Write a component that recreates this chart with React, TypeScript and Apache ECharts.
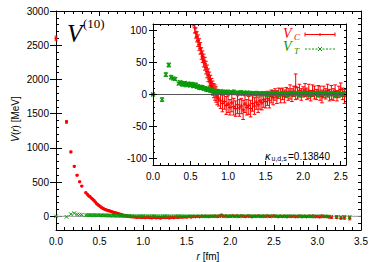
import React, { useEffect, useRef } from "react";
import * as echarts from "echarts";

// r [fm] of the lattice points
const rValues = [
  0, 0.121, 0.171, 0.21, 0.242, 0.271, 0.296, 0.342,
  0.36, 0.375, 0.39, 0.405, 0.42, 0.435, 0.45, 0.465, 0.48, 0.495,
  0.51, 0.525, 0.54, 0.555, 0.57, 0.585, 0.6, 0.615, 0.63, 0.645,
  0.66, 0.675, 0.69, 0.705, 0.72, 0.735, 0.75, 0.765, 0.78, 0.795,
  0.81, 0.825, 0.84, 0.855,
  0.875, 0.9, 0.925, 0.95, 0.975, 1.0, 1.025, 1.05, 1.075, 1.1,
  1.125, 1.15, 1.175, 1.2, 1.225, 1.25, 1.275, 1.3, 1.325, 1.35,
  1.375, 1.4, 1.425, 1.45, 1.475, 1.5, 1.525, 1.55, 1.575, 1.6,
  1.625, 1.65, 1.675, 1.7, 1.725, 1.75, 1.775, 1.8, 1.825, 1.85,
  1.875, 1.9, 1.925, 1.95, 1.975, 2.0, 2.025, 2.05, 2.075, 2.1,
  2.125, 2.15, 2.175, 2.2, 2.225, 2.25, 2.275, 2.3, 2.325, 2.35,
  2.375, 2.4, 2.425, 2.45, 2.475, 2.5, 2.525, 2.55, 2.575, 2.6,
  2.625, 2.65, 2.675, 2.7, 2.725, 2.75, 2.775, 2.8, 2.825, 2.85,
  2.875, 2.9, 2.925, 2.95, 2.975, 3.0, 3.025, 3.05, 3.075, 3.1,
  3.13, 3.16, 3.22, 3.27, 3.31, 3.37,
];

// central potential V_C [MeV]
const vcValues = [
  2600, 1380, 940, 730, 600, 505, 442, 345,
  320, 300, 287, 266, 250, 232, 210, 186, 172, 155,
  140, 126, 115, 104, 96, 90, 84, 78, 72, 64,
  59, 53, 48, 42, 36, 30, 24, 19, 14, 10,
  6, 3, 0, -4,
  -7, -10, -14, -11, -17, -15, -20, -13, -19, -22,
  -16, -21, -18, -24, -15, -20, -17, -22, -14, -18,
  -12, -16, -10, -13, -8, -11, -6, -9, -3, -5,
  0, -4, 2, -2, 1, -3, 3, 0, 4, -1,
  5, 12, 2, 6, 0, 4, 7, 1, 5, -2,
  6, 3, 0, 5, 2, -3, 4, 1, 6, -1,
  3, 0, 5, -2, 4, 8, 1, -3, 2, -1,
  3, -4, 1, -2, 2, -5, 0, 3, -3, 1,
  -6, 2, -2, 4, -4, 0, -7, 3, -5, -2,
  -8, -15, -12, -22, -18, -25,
];

const vcErrors = [
  35, 20, 12, 10, 8, 7, 7, 6,
  6, 6, 6, 6, 6, 6, 6, 7, 7, 7,
  7, 7, 8, 8, 8, 8, 9, 9, 9, 9,
  9, 10, 10, 10, 10, 10, 11, 11, 11, 11,
  11, 12, 12, 12,
  11, 12, 13, 12, 14, 13, 12, 14, 13, 12,
  14, 13, 12, 15, 13, 12, 14, 13, 12, 13,
  11, 12, 13, 11, 12, 10, 11, 12, 10, 11,
  9, 10, 8, 11, 9, 10, 8, 9, 11, 10,
  8, 20, 9, 10, 9, 8, 10, 9, 11, 8,
  9, 10, 8, 9, 11, 10, 9, 8, 10, 9,
  11, 9, 10, 8, 9, 10, 9, 11, 10, 12,
  10, 11, 9, 12, 10, 11, 13, 10, 12, 11,
  12, 11, 13, 12, 14, 12, 13, 15, 12, 14,
  15, 18, 20, 22, 25, 28,
];

// tensor potential V_T [MeV]
const vtValues = [
  0, -8, 31, 46, 27, 25, 24, 17,
  19, 18, 16, 17, 18, 15, 16, 17, 16, 14,
  15, 16, 13, 14, 15, 12, 13, 11, 12, 10,
  11, 9, 10, 8, 9, 7, 8, 6, 7, 5,
  6, 4, 5, 4,
  4, 5, 3, 4, 3, 4, 2, 3, 4, 2,
  3, 2, 3, 1, 2, 3, 1, 2, 2, 1,
  2, 1, 2, 1, 2, 1, 0, 2, 1, 2,
  1, 2, 0, 1, 2, 1, 2, 0, 1, 2,
  1, 2, 1, 0, 2, 1, 2, 1, 0, 2,
  1, 2, 1, 0, 2, 1, 1, 2, 0, 1,
  2, 1, 0, 1, 2, 0, 1, 2, 1, 0,
  1, 0, 2, 1, 0, 1, -1, 1, 0, 1,
  0, -1, 1, 0, -2, 0, -1, 1, -2, 0,
  -3, -5, -8, -10, -9, -12,
];

const vtErrors = [
  2, 3, 3, 3, 3, 2, 2, 2,
  2, 2, 3, 2, 2, 3, 2, 2, 3, 2,
  2, 3, 2, 2, 3, 2, 2, 3, 2, 2,
  3, 2, 2, 3, 2, 2, 3, 2, 2, 3,
  2, 2, 3, 2,
  3, 2, 3, 3, 2, 3, 2, 3, 3, 2,
  2, 3, 3, 2, 3, 2, 3, 3, 2, 3,
  3, 3, 2, 3, 2, 3, 3, 2, 3, 3,
  2, 3, 3, 2, 3, 3, 2, 3, 2, 3,
  3, 2, 3, 3, 2, 3, 3, 2, 3, 2,
  3, 3, 2, 3, 3, 2, 3, 3, 2, 3,
  2, 3, 3, 2, 3, 3, 2, 3, 3, 3,
  3, 3, 3, 2, 3, 3, 3, 2, 3, 3,
  3, 4, 3, 3, 4, 3, 3, 4, 3, 3,
  4, 5, 5, 6, 6, 7,
];

const mainYMajorTicks = [0, 500, 1000, 1500, 2000, 2500, 3000];
const insetYMajorTicks = [-100, -50, 0, 50, 100];

const RED = "#ff0000";
const GREEN = "#0a9a0a";
const SANS = "'Liberation Sans', Arial, Helvetica, sans-serif";
const SERIF = "'Liberation Serif', 'Times New Roman', serif";

type Marker = "dot" | "plus" | "cross";

function errRenderer(color: string, marker: Marker, size: number, showErr: boolean, cap: number, lw: number, mlw: number) {
  return (params: any, api: any) => {
    const cs = params.coordSys;
    const x0 = cs.x, y0 = cs.y, x1 = cs.x + cs.width, y1 = cs.y + cs.height;
    const r = api.value(0), v = api.value(1), e = api.value(2);
    const p = api.coord([r, v]);
    const px = p[0], py = p[1];
    const children: any[] = [];
    if (px < x0 - 0.5 || px > x1 + 0.5) return { type: "group", children };
    const st = { stroke: color, lineWidth: lw };
    const mst = { stroke: color, lineWidth: mlw };
    if (showErr) {
      const hiRaw = api.coord([r, v + e])[1];
      const loRaw = api.coord([r, v - e])[1];
      const hi = Math.max(hiRaw, y0), lo = Math.min(loRaw, y1);
      if (hi < lo) {
        children.push({ type: "line", shape: { x1: px, y1: hi, x2: px, y2: lo }, style: st });
        if (hiRaw >= y0) children.push({ type: "line", shape: { x1: px - cap, y1: hiRaw, x2: px + cap, y2: hiRaw }, style: st });
        if (loRaw <= y1) children.push({ type: "line", shape: { x1: px - cap, y1: loRaw, x2: px + cap, y2: loRaw }, style: st });
      }
    }
    if (py >= y0 && py <= y1) {
      if (marker === "dot") {
        children.push({ type: "circle", shape: { cx: px, cy: py, r: size }, style: { fill: color } });
      } else if (marker === "plus") {
        children.push({ type: "line", shape: { x1: px - size, y1: py, x2: px + size, y2: py }, style: mst });
        children.push({ type: "line", shape: { x1: px, y1: py - size, x2: px, y2: py + size }, style: mst });
      } else {
        children.push({ type: "line", shape: { x1: px - size, y1: py - size, x2: px + size, y2: py + size }, style: mst });
        children.push({ type: "line", shape: { x1: px - size, y1: py + size, x2: px + size, y2: py - size }, style: mst });
      }
    }
    return { type: "group", children };
  };
}

const INSET_XMAX = 2.57;

export default function App() {
  const ref = useRef<HTMLDivElement>(null);
  useEffect(() => {
    if (!ref.current) return;
    const chart = echarts.init(ref.current, undefined, { renderer: "svg" });

    const redData = rValues.map((r, i) => [r, vcValues[i], vcErrors[i]]);
    const greenData = rValues.map((r, i) => [r, vtValues[i], vtErrors[i]]);
    const insetRed = redData.filter((d) => d[0] <= INSET_XMAX);
    const insetGreen = greenData.filter((d) => d[0] <= INSET_XMAX);

    const axLine = { show: true, onZero: false, lineStyle: { color: "#000", width: 1 } };
    const lbl = { color: "#000", fontSize: 10, fontFamily: SANS };
    const isMult = (v: number, m: number) => Math.abs(v / m - Math.round(v / m)) < 1e-6;

    const xAx = (grid: number, pos: string, max: number, labels: boolean, tl: number, ml: number, z: number) => ({
      type: "value", gridIndex: grid, position: pos, min: 0, max, interval: 0.5, z,
      axisLine: axLine,
      axisTick: { show: true, inside: true, length: tl, lineStyle: { color: "#000" } },
      minorTick: { show: true, splitNumber: 5, length: ml, lineStyle: { color: "#000" } },
      splitLine: { show: false },
      axisLabel: labels
        ? { ...lbl, margin: 6, formatter: (v: number) => (isMult(v, 0.5) ? v.toFixed(1) : "") }
        : { show: false },
    });

    const yAx = (grid: number, pos: string, min: number, max: number, step: number, major: number, labels: boolean, tl: number, margin: number, z: number) => ({
      type: "value", gridIndex: grid, position: pos, min, max, interval: step, z,
      axisLine: axLine,
      axisTick: { show: true, inside: true, length: tl, lineStyle: { color: "#000" } },
      splitLine: { show: false },
      axisLabel: labels
        ? { ...lbl, margin, formatter: (v: number) => (isMult(v, major) ? String(v) : "") }
        : { show: false },
    });

    const yMajor = (grid: number, pos: string, min: number, max: number, ticks: number[], tl: number, z: number) => ({
      type: "value", gridIndex: grid, position: pos, min, max, z,
      axisLine: { show: false },
      axisTick: { show: true, inside: true, length: tl, customValues: ticks, lineStyle: { color: "#000" } },
      splitLine: { show: false },
      axisLabel: { show: false },
    });

    chart.setOption({
      animation: false,
      backgroundColor: "#fff",
      grid: [
        { left: 56, top: 11, right: 13, bottom: 32, z: 0 },
        { left: 153, top: 24, right: 28, bottom: 97, show: true, backgroundColor: "#fff", borderWidth: 0, z: 4 },
      ],
      xAxis: [
        xAx(0, "bottom", 3.5, true, 5, 3, 1),
        xAx(0, "top", 3.5, false, 5, 3, 1),
        xAx(1, "bottom", INSET_XMAX, true, 4, 2, 6),
        xAx(1, "top", INSET_XMAX, false, 4, 2, 6),
      ],
      yAxis: [
        yAx(0, "left", -200, 3000, 100, 500, true, 3, 7, 1),
        yAx(0, "right", -200, 3000, 100, 500, false, 3, 7, 1),
        yMajor(0, "left", -200, 3000, mainYMajorTicks, 6, 1),
        yMajor(0, "right", -200, 3000, mainYMajorTicks, 6, 1),
        yAx(1, "left", -110, 110, 10, 50, true, 2, 6, 6),
        yAx(1, "right", -110, 110, 10, 50, false, 2, 6, 6),
        yMajor(1, "left", -110, 110, insetYMajorTicks, 4, 6),
        yMajor(1, "right", -110, 110, insetYMajorTicks, 4, 6),
      ],
      series: [
        {
          type: "line", xAxisIndex: 0, yAxisIndex: 0, data: [[0, 0], [3.5, 0]],
          symbol: "none", lineStyle: { color: "#9a9a9a", width: 1 }, silent: true, z: 1,
        },
        {
          type: "custom", xAxisIndex: 0, yAxisIndex: 0, data: redData, encode: { x: 0, y: 1 },
          renderItem: errRenderer(RED, "dot", 1.6, true, 1.5, 0.8, 1), silent: true, z: 2,
        },
        {
          type: "custom", xAxisIndex: 0, yAxisIndex: 0, data: greenData, encode: { x: 0, y: 1 },
          renderItem: errRenderer(GREEN, "cross", 1.8, false, 1, 1, 1), silent: true, z: 2,
        },
        {
          type: "line", xAxisIndex: 2, yAxisIndex: 4, data: [[0, 0], [INSET_XMAX, 0]],
          symbol: "none", lineStyle: { color: "#555", width: 1 }, silent: true, z: 5,
        },
        {
          type: "custom", xAxisIndex: 2, yAxisIndex: 4, data: insetRed, encode: { x: 0, y: 1 },
          renderItem: errRenderer(RED, "plus", 2, true, 1.8, 1, 1.2), silent: true, z: 5,
        },
        {
          type: "custom", xAxisIndex: 2, yAxisIndex: 4, data: insetGreen, encode: { x: 0, y: 1 },
          renderItem: errRenderer(GREEN, "cross", 2, true, 1.5, 1, 1.3), silent: true, z: 5,
        },
      ],
      graphic: [
        { type: "text", left: 67, top: 21, z: 10, style: { text: "V", fontFamily: SERIF, fontStyle: "italic", fontSize: 25, fill: "#000" } },
        { type: "text", x: 83, y: 23.5, z: 10, style: { text: "(10)", fontFamily: SERIF, fontSize: 13, fill: "#000", verticalAlign: "middle" } },
        // legend
        { type: "text", x: 283, y: 33, z: 10, style: { text: "V", fontFamily: SERIF, fontStyle: "italic", fontSize: 14, fill: RED, verticalAlign: "middle" } },
        { type: "text", x: 294, y: 37, z: 10, style: { text: "C", fontFamily: SERIF, fontStyle: "italic", fontSize: 9, fill: RED, verticalAlign: "middle" } },
        { type: "line", z: 10, shape: { x1: 305, y1: 34.5, x2: 335, y2: 34.5 }, style: { stroke: RED, lineWidth: 1 } },
        { type: "line", z: 10, shape: { x1: 305, y1: 32.5, x2: 305, y2: 36.5 }, style: { stroke: RED, lineWidth: 1 } },
        { type: "line", z: 10, shape: { x1: 335, y1: 32.5, x2: 335, y2: 36.5 }, style: { stroke: RED, lineWidth: 1 } },
        { type: "line", z: 10, shape: { x1: 320, y1: 33, x2: 320, y2: 36 }, style: { stroke: RED, lineWidth: 1 } },
        { type: "text", x: 283, y: 46.5, z: 10, style: { text: "V", fontFamily: SERIF, fontStyle: "italic", fontSize: 14, fill: GREEN, verticalAlign: "middle" } },
        { type: "text", x: 294, y: 50.5, z: 10, style: { text: "T", fontFamily: SERIF, fontStyle: "italic", fontSize: 9, fill: GREEN, verticalAlign: "middle" } },
        { type: "line", z: 10, shape: { x1: 305, y1: 49, x2: 335, y2: 49 }, style: { stroke: GREEN, lineWidth: 1, lineDash: [2, 1.5] } },
        { type: "line", z: 10, shape: { x1: 318, y1: 47, x2: 322, y2: 51 }, style: { stroke: GREEN, lineWidth: 1 } },
        { type: "line", z: 10, shape: { x1: 318, y1: 51, x2: 322, y2: 47 }, style: { stroke: GREEN, lineWidth: 1 } },
        // kappa label
        { type: "text", x: 265, y: 156, z: 10, style: { text: "κ", fontFamily: SANS, fontStyle: "italic", fontSize: 11, fill: "#000", verticalAlign: "middle" } },
        { type: "text", x: 271.5, y: 158.5, z: 10, style: { text: "u,d,s", fontFamily: SANS, fontSize: 7, fill: "#000", verticalAlign: "middle" } },
        { type: "text", x: 288, y: 156, z: 10, style: { text: "=0.13840", fontFamily: SANS, fontSize: 10, fill: "#000", verticalAlign: "middle" } },
        // axis titles
        {
          type: "text", x: 15, y: 119, rotation: Math.PI / 2, z: 10,
          style: {
            text: "{i|V}({i|r}) [MeV]", fontFamily: SANS, fontSize: 10, fill: "#000", align: "center", verticalAlign: "middle",
            rich: { i: { fontFamily: SANS, fontSize: 10, fontStyle: "italic", fill: "#000" } },
          },
        },
        {
          type: "text", x: 208, y: 256, z: 10,
          style: {
            text: "{i|r} [fm]", fontFamily: SANS, fontSize: 10, fill: "#000", align: "center", verticalAlign: "middle",
            rich: { i: { fontFamily: SANS, fontSize: 10, fontStyle: "italic", fill: "#000" } },
          },
        },
      ],
    });
    return () => chart.dispose();
  }, []);
  return <div ref={ref} style={{ position: "fixed", left: 0, top: 0, width: 374, height: 262 }} />;
}
